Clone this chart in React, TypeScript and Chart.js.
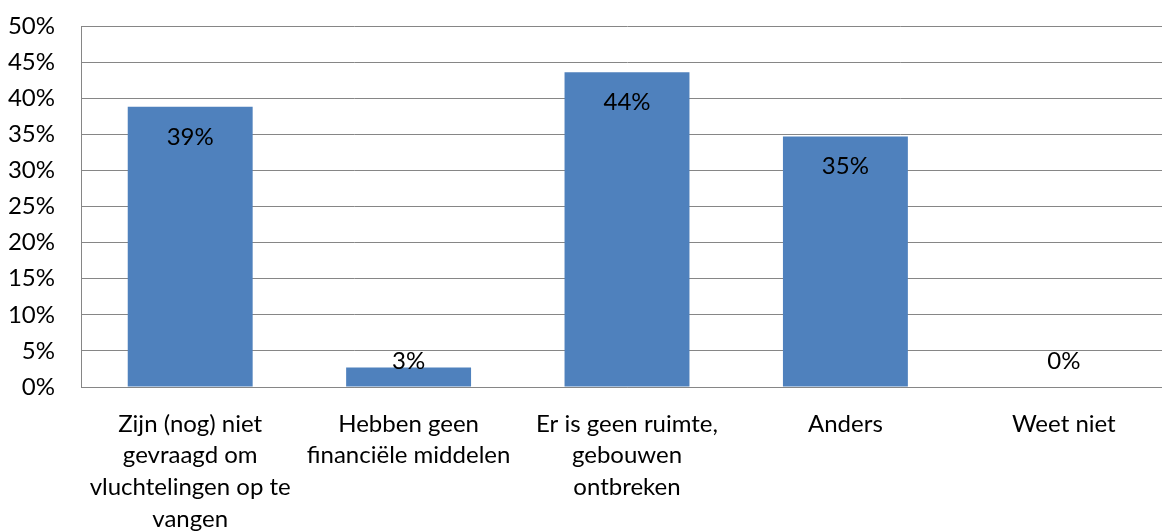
import React, { useEffect, useRef } from "react";
import { Chart, registerables } from "chart.js";

Chart.register(...registerables);

const categories: (string | string[])[] = [
  ["Zijn (nog) niet", "gevraagd om", "vluchtelingen op te", "vangen"],
  ["Hebben geen", "financiële middelen"],
  ["Er is geen ruimte,", "gebouwen", "ontbreken"],
  "Anders",
  "Weet niet",
];
const values: number[] = [38.8, 2.7, 43.6, 34.7, 0];
const valueLabels: string[] = ["39%", "3%", "44%", "35%", "0%"];

const FONT = "Lato, 'Open Sans', sans-serif";
const FONT_SIZE = 24;

const labelPlugin = {
  id: "insideEndLabels",
  afterDatasetsDraw(chart: any) {
    const ctx = chart.ctx;
    const meta = chart.getDatasetMeta(0);
    const base = chart.scales.y.getPixelForValue(0);
    ctx.save();
    ctx.font = `${FONT_SIZE}px ${FONT}`;
    ctx.fillStyle = "#000000";
    ctx.textAlign = "center";
    ctx.textBaseline = "middle";
    meta.data.forEach((bar: any, i: number) => {
      const y = Math.min(bar.y + 30, base - 25.5);
      ctx.fillText(valueLabels[i], bar.x, y);
    });
    ctx.restore();
  },
};

export default function App() {
  const ref = useRef<HTMLCanvasElement>(null);
  useEffect(() => {
    if (!ref.current) return;
    const chart = new Chart(ref.current, {
      type: "bar",
      data: {
        labels: categories,
        datasets: [
          {
            data: values,
            backgroundColor: "#4F81BD",
            borderWidth: 0,
            categoryPercentage: 1,
            barPercentage: 0.572,
          },
        ],
      },
      options: {
        animation: false,
        responsive: true,
        maintainAspectRatio: false,
        layout: { padding: { top: 26, right: 7, left: 0, bottom: 0 } },
        plugins: {
          legend: { display: false },
          tooltip: { enabled: false },
          title: { display: false },
        },
        scales: {
          x: {
            grid: { display: false, drawTicks: false },
            border: { display: true, color: "#868686", width: 1 },
            ticks: {
              color: "#000000",
              font: { family: FONT, size: FONT_SIZE, lineHeight: 1.32 },
              padding: 21,
              maxRotation: 0,
              autoSkip: false,
            },
            afterFit(scale: any) {
              scale.height = 144;
            },
          },
          y: {
            min: 0,
            max: 50,
            grid: {
              color: "#868686",
              lineWidth: 1,
              drawTicks: true,
              tickLength: 26,
              tickColor: "rgba(0,0,0,0)",
            },
            border: { display: true, color: "#868686", width: 1 },
            ticks: {
              stepSize: 5,
              color: "#000000",
              font: { family: FONT, size: FONT_SIZE },
              padding: 0,
              callback: (v: any) => `${v}%`,
            },
            afterFit(scale: any) {
              scale.width = 81;
            },
          },
        },
      },
      plugins: [labelPlugin],
    });
    return () => chart.destroy();
  }, []);

  return (
    <div
      style={{
        position: "absolute",
        left: 0,
        top: 0,
        width: 1162,
        height: 531,
        overflow: "hidden",
        background: "#ffffff",
      }}
    >
      <div style={{ position: "relative", width: 1180, height: 531 }}>
        <canvas ref={ref} />
      </div>
    </div>
  );
}
